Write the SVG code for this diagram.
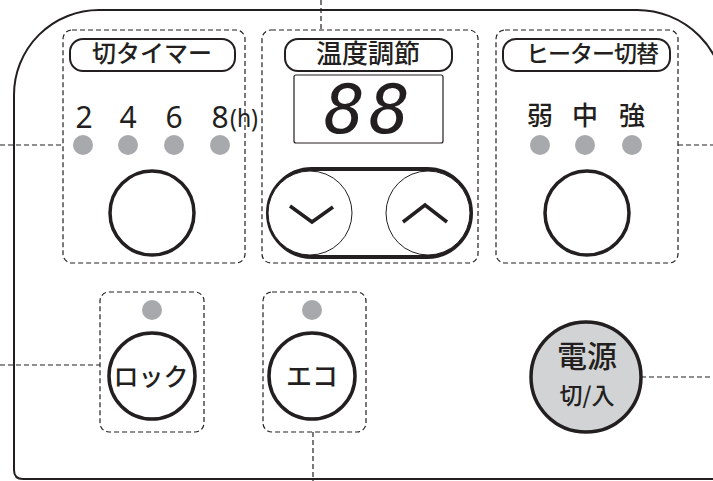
<svg xmlns="http://www.w3.org/2000/svg" width="713" height="481" viewBox="0 0 713 481">
<style>
.panel{fill:none;stroke:#231f20;stroke-width:2}
.grp{fill:none;stroke:#231f20;stroke-width:1.2;stroke-dasharray:5 3}
.conn{fill:none;stroke:#231f20;stroke-width:1.2;stroke-dasharray:5 3}
.pill{fill:#fff;stroke:#231f20;stroke-width:2}
.btn{fill:#fff;stroke:#231f20;stroke-width:3.5}
.led{fill:#a7a9ac}
.jp{font-family:"Noto Sans CJK JP","Noto Sans",sans-serif;fill:#231f20;text-anchor:middle}
.num{font-family:"Noto Sans","Open Sans",sans-serif;fill:#231f20;text-anchor:middle;font-size:30px}
.chev{fill:none;stroke:#231f20;stroke-width:3.5;stroke-linecap:butt;stroke-linejoin:miter}
</style>
<rect width="713" height="481" fill="#fff"/>
<path class="panel" d="M 730 479 L 23 479 Q 14 479 14 470 L 14 95 A 85 85 0 0 1 99 10 L 637 10 A 88 88 0 0 1 725 98"/>

<g id="connectors">
<line class="conn" x1="321" y1="0" x2="321" y2="30"/>
<line class="conn" x1="0" y1="145" x2="63" y2="145"/>
<line class="conn" x1="678" y1="145" x2="713" y2="145"/>
<line class="conn" x1="0" y1="365" x2="100" y2="365"/>
<line class="conn" x1="313" y1="432" x2="313" y2="481"/>
<line class="conn" x1="641" y1="377" x2="713" y2="377"/>
<line x1="627" y1="377" x2="639" y2="377" stroke="#fff" stroke-width="1.5"/>
</g>

<g id="timer">
<rect class="grp" x="63" y="30" width="182" height="233" rx="9"/>
<rect class="pill" x="70" y="39" width="165" height="32" rx="13"/>
<text class="jp" x="152" y="62" font-size="24" font-weight="500">切タイマー</text>
<text class="num" x="84" y="128">2</text>
<text class="num" x="128" y="128">4</text>
<text class="num" x="174" y="128">6</text>
<text class="num" x="220" y="128">8</text>
<text x="244" y="127" font-family="Noto Sans,sans-serif" font-size="26" fill="#231f20" text-anchor="middle" textLength="28" lengthAdjust="spacingAndGlyphs">(h)</text>
<circle class="led" cx="83" cy="145" r="10"/>
<circle class="led" cx="128" cy="145" r="10"/>
<circle class="led" cx="174" cy="145" r="10"/>
<circle class="led" cx="220" cy="145" r="10"/>
<circle class="btn" cx="152" cy="213" r="42"/>
</g>

<g id="temperature">
<rect class="grp" x="262" y="30" width="216" height="233" rx="9"/>
<rect class="pill" x="285" y="39" width="167" height="32" rx="13"/>
<text class="jp" x="368" y="63" font-size="26" font-weight="500">温度調節</text>
<rect x="294" y="75" width="149" height="68" rx="2" fill="#fff" stroke="#231f20" stroke-width="1.2"/>
<text x="369" y="133" font-family="DejaVu Sans Mono,monospace" font-style="italic" font-size="68" letter-spacing="4" fill="#231f20" text-anchor="middle">88</text>
<rect x="268" y="169" width="203" height="88" rx="44" fill="#fff" stroke="#231f20" stroke-width="4"/>
<circle cx="310" cy="213" r="42" fill="#fff" stroke="#231f20" stroke-width="1"/>
<circle cx="428" cy="213" r="42" fill="#fff" stroke="#231f20" stroke-width="1"/>
<polyline class="chev" points="290,206 312,222 333,207"/>
<polyline class="chev" points="403,222 425,205 447,222"/>
</g>

<g id="heater">
<rect class="grp" x="496" y="30" width="182" height="233" rx="9"/>
<rect class="pill" x="503" y="39" width="167" height="32" rx="13"/>
<text class="jp" x="592" y="62" font-size="23" font-weight="500" letter-spacing="-1">ヒーター切替</text>
<text class="jp" x="540" y="125" font-size="26" font-weight="500">弱</text>
<text class="jp" x="585" y="125" font-size="26" font-weight="500">中</text>
<text class="jp" x="632" y="125" font-size="26" font-weight="500">強</text>
<circle class="led" cx="540" cy="145" r="10"/>
<circle class="led" cx="585" cy="145" r="10"/>
<circle class="led" cx="632" cy="145" r="10"/>
<circle class="btn" cx="587" cy="213" r="42"/>
</g>

<g id="lock">
<rect class="grp" x="100" y="292" width="104" height="140" rx="9"/>
<circle class="led" cx="152" cy="310" r="10"/>
<circle class="btn" cx="152" cy="376" r="43"/>
<text class="jp" x="151" y="386" font-size="25" font-weight="500">ロック</text>
</g>

<g id="eco">
<rect class="grp" x="263" y="292" width="103" height="140" rx="9"/>
<circle class="led" cx="312" cy="310" r="10"/>
<circle class="btn" cx="312" cy="376" r="43"/>
<text class="jp" x="312" y="386" font-size="26" font-weight="500">エコ</text>
</g>

<g id="power">
<circle cx="586" cy="377" r="55" fill="#d1d3d4" stroke="#231f20" stroke-width="3.5"/>
<text class="jp" x="587" y="367" font-size="30" font-weight="500">電源</text>
<text class="jp" x="587" y="404" font-size="23" font-weight="500">切/入</text>
</g>
</svg>
